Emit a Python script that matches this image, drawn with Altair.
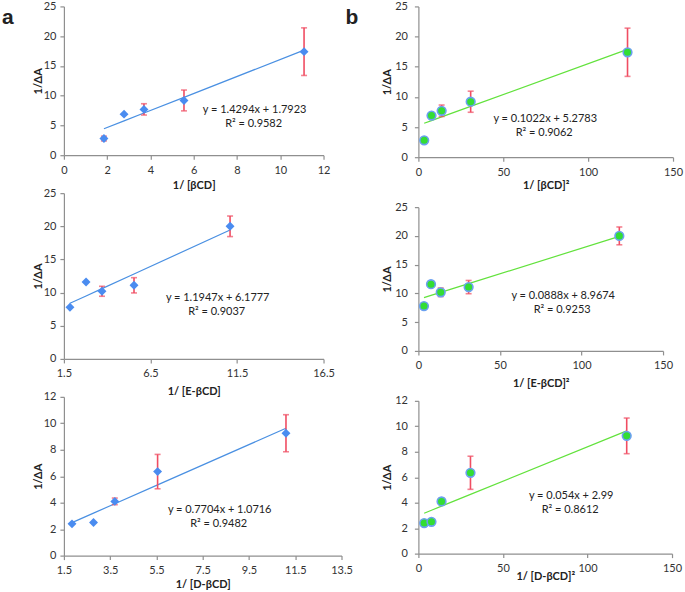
import altair as alt
import pandas as pd

# ---- data ----
x_single = [1.85, 2.78, 3.70, 5.55, 11.10]          # 1/[CD]
x_square = [3.42, 7.73, 13.69, 30.80, 123.2]        # 1/[CD]^2

y_beta = [2.8, 6.9, 7.7, 9.2, 17.4]
err_beta = [0.4, 0.0, 0.95, 1.75, 4.0]
y_ebeta = [7.8, 11.6, 10.2, 11.1, 20.0]
err_ebeta = [0.0, 0.0, 0.75, 1.15, 1.55]
y_dbeta = [2.4, 2.5, 4.1, 6.35, 9.25]
err_dbeta = [0.0, 0.0, 0.25, 1.3, 1.4]

# trendline coefficients (slope, intercept, R^2) shown in the figure
fit_a = [(1.4294, 1.7923, "0.9582"), (1.1947, 6.1777, "0.9037"), (0.7704, 1.0716, "0.9482")]
fit_b = [(0.1022, 5.2783, "0.9062"), (0.0888, 8.9674, "0.9253"), (0.054, 2.99, "0.8612")]

eq_a = ["y = 1.4294x + 1.7923", "y = 1.1947x + 6.1777", "y = 0.7704x + 1.0716"]
eq_b = ["y = 0.1022x + 5.2783", "y = 0.0888x + 8.9674", "y = 0.054x + 2.99"]

xticks_a1 = [0, 2, 4, 6, 8, 10, 12]
xticks_a2 = [1.5, 6.5, 11.5, 16.5]
xticks_a3 = [1.5, 3.5, 5.5, 7.5, 9.5, 11.5, 13.5]
xticks_b = [0, 50, 100, 150]
yticks_25 = [0, 5, 10, 15, 20, 25]
yticks_12 = [0, 2, 4, 6, 8, 10, 12]

xtitles_a = ["1/ [βCD]", "1/ [E-βCD]", "1/ [D-βCD]"]
xtitles_b = ["1/ [βCD]²", "1/ [E-βCD]²", "1/ [D-βCD]²"]
panel_letters = ["a", "b"]

FONT = "Lato"
AXIS_COL = "#8f8f8f"
ERR_COL = "#f04d62"


def label(text, px, py, size=11, weight="normal", align="center", font=FONT):
    return alt.Chart(pd.DataFrame({"t": [text]})).mark_text(
        font=font, fontSize=size, fontWeight=weight, align=align,
        baseline="middle", color="#222222"
    ).encode(x=alt.value(px), y=alt.value(py), text="t:N")


def panel(xv, yv, ev, xticks, yticks, xtitle, fit, eq, kind, w, h,
          eq_pos, xtp, ylp, ytp, xfmt=None, extra=()):
    df = pd.DataFrame({"x": xv, "y": yv,
                       "lo": [a - b for a, b in zip(yv, ev)],
                       "hi": [a + b for a, b in zip(yv, ev)]})
    xs = alt.Scale(domain=[xticks[0], xticks[-1]], nice=False, zero=False)
    ys = alt.Scale(domain=[yticks[0], yticks[-1]], nice=False, zero=False)
    xkw = dict(values=xticks, title=xtitle, titlePadding=xtp, labelPadding=5)
    if xfmt:
        xkw["format"] = xfmt
    xax = alt.Axis(**xkw)
    yax = alt.Axis(values=yticks, title="1/ΔA", labelPadding=ylp, titlePadding=ytp)
    X = lambda f: alt.X(f, type="quantitative", scale=xs, axis=xax)
    Y = lambda f: alt.Y(f, type="quantitative", scale=ys, axis=yax)
    base = alt.Chart(df)
    slope, icpt, r2 = fit
    line_col = "#4a90e2" if kind == "a" else "#62e23c"
    trend = base.transform_calculate(
        fy=f"{slope}*datum.x + {icpt}"
    ).mark_line(color=line_col, strokeWidth=1.2).encode(x=X("x"), y=Y("fy"))
    rule = base.mark_rule(color=ERR_COL, strokeWidth=1.6).encode(
        x=X("x"), y=Y("lo"), y2="hi")
    caps = base.transform_fold(["lo", "hi"], as_=["k", "v"]).mark_tick(
        color=ERR_COL, orient="horizontal", size=6, thickness=1.6
    ).encode(x=X("x"), y=Y("v"))
    if kind == "a":
        pts = base.mark_point(shape="diamond", filled=True, size=80,
                              color="#4a8cf0", opacity=1)
    else:
        pts = base.mark_point(shape="circle", filled=True, size=75,
                              fill="#33dd33", stroke="#6aa0f0",
                              strokeWidth=1.6, opacity=1)
    pts = pts.encode(x=X("x"), y=Y("y"))
    t1 = label(eq, eq_pos[0], eq_pos[1])
    t2 = label(f"R² = {r2}", eq_pos[0] - 1, eq_pos[1] + 14)
    layers = [trend, rule, caps, pts, t1, t2] + list(extra)
    return alt.layer(*layers).properties(width=w, height=h)


letters = [
    label(panel_letters[0], -62, 12, size=21, weight="bold", align="left", font="Liberation Sans"),
    label(panel_letters[1], 282, 12, size=21, weight="bold", align="left", font="Liberation Sans"),
]

a1 = panel(x_single, y_beta, err_beta, xticks_a1, yticks_25, xtitles_a[0], fit_a[0], eq_a[0],
           "a", 260, 149, (191, 104), 4, 4, 0, extra=letters)
a2 = panel(x_single, y_ebeta, err_ebeta, xticks_a2, yticks_25, xtitles_a[1], fit_a[1], eq_a[1],
           "a", 260, 166, (154, 105), 7, 4, 0, xfmt=".1f")
a3 = panel(x_single, y_dbeta, err_dbeta, xticks_a3, yticks_12, xtitles_a[2], fit_a[2], eq_a[2],
           "a", 278, 159, (156, 113), 3, 4, 0, xfmt=".1f")
b1 = panel(x_square, y_beta, err_beta, xticks_b, yticks_25, xtitles_b[0], fit_b[0], eq_b[0],
           "b", 255, 151, (127, 113), 2, 7, 2)
b2 = panel(x_square, y_ebeta, err_ebeta, xticks_b, yticks_25, xtitles_b[1], fit_b[1], eq_b[1],
           "b", 245, 144, (145, 89), 7, 7, 2)
b3 = panel(x_square, y_dbeta, err_dbeta, xticks_b, yticks_12, xtitles_b[2], fit_b[2], eq_b[2],
           "b", 254, 153, (153, 95), -3, 7, 2)

col_a = alt.vconcat(a1, a2, a3, spacing=38, bounds="flush")
col_b = alt.vconcat(b1, b2, b3, spacing=50, bounds="flush")

chart = alt.hconcat(col_a, col_b, spacing=23).properties(
    padding={"left": 2, "top": 0, "right": 2, "bottom": 2}
).configure_view(stroke=None).configure_axis(
    grid=False, domainColor=AXIS_COL, tickColor=AXIS_COL, tickSize=4,
    labelFont=FONT, labelFontSize=11, labelColor="#333333", labelFlush=False,
    titleFont=FONT, titleFontSize=11, titleFontWeight="bold", titleColor="#222222",
    domainWidth=1.2, tickWidth=1.2,
)

chart.save("out.html", embed_options={"renderer": "svg", "actions": False})
